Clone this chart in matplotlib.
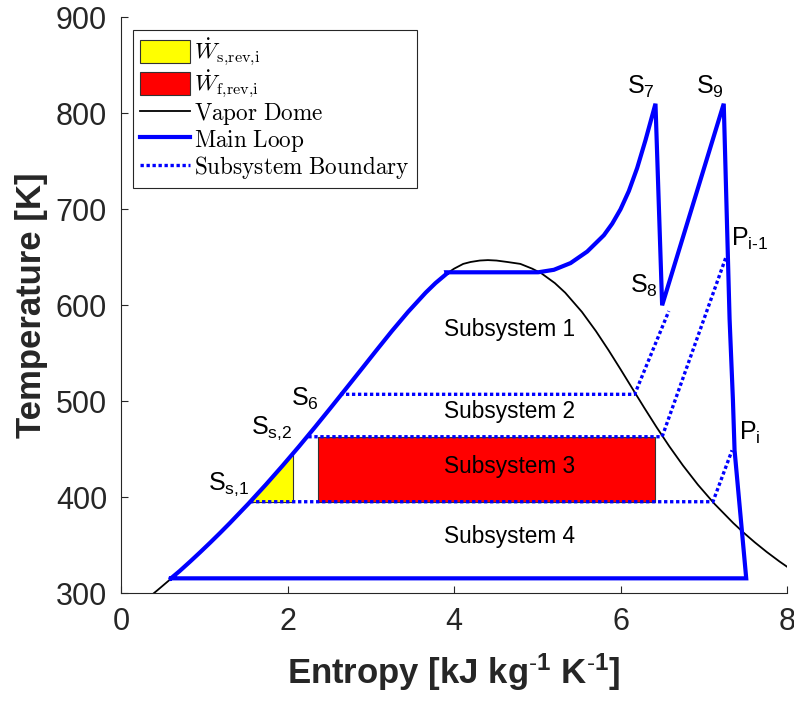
import numpy as np
import matplotlib
matplotlib.use("Agg")
import matplotlib.pyplot as plt
from matplotlib.font_manager import FontProperties
from matplotlib.patches import Patch, Polygon, Rectangle
from matplotlib.lines import Line2D

plt.rcParams['font.family'] = ['Liberation Sans', 'DejaVu Sans']
plt.rcParams['mathtext.fontset'] = 'custom'
plt.rcParams['mathtext.rm'] = 'Liberation Sans'
plt.rcParams['mathtext.it'] = 'Liberation Sans:italic'
plt.rcParams['mathtext.bf'] = 'Liberation Sans:bold'

# ---- Vapor dome (saturation curve) ----
dome_T = [298.15, 303.15, 313.15, 323.15, 333.15, 343.15, 353.15, 363.15, 373.15,
          393.15, 413.15, 433.15, 453.15, 473.15, 493.15, 513.15, 533.15, 553.15,
          573.15, 593.15, 613.15, 623.15, 633.15, 638.15, 643.15, 645.15, 646.65, 647.1]
dome_sf = [0.3672, 0.4368, 0.5724, 0.7038, 0.8313, 0.9551, 1.0756, 1.1929, 1.3072,
           1.5279, 1.7392, 1.9426, 2.1396, 2.3305, 2.5175, 2.7020, 2.8857, 3.0683,
           3.2534, 3.4480, 3.6594, 3.7777, 3.9147, 4.0009, 4.1106, 4.2000, 4.3100, 4.4070]
dome_sg = [8.5567, 8.4520, 8.2557, 8.0763, 7.9096, 7.7553, 7.6122, 7.4791, 7.3549,
           7.1292, 6.9294, 6.7502, 6.5857, 6.4323, 6.2861, 6.1437, 6.0019, 5.8571,
           5.7045, 5.5362, 5.3357, 5.2112, 5.0526, 4.9400, 4.7971, 4.6400, 4.5100, 4.4070]

# ---- Main loop ----
T_low = 315.6
T_boil = 634.4
s_pump_start = 0.60
s_boil_start = 3.91
s_boil_end = 5.01
sh_s = [5.01, 5.20, 5.40, 5.60, 5.80, 5.90, 6.00, 6.10, 6.20, 6.30, 6.42]
sh_T = [634.4, 637, 644, 656, 673, 685, 700, 719, 743, 772, 810]
rh_s = [6.42, 6.50, 7.24]          # S7 -> S8 -> S9
rh_T = [810, 600, 810]
exp_s = [7.24, 7.31, 7.35, 7.37, 7.51]   # S9 -> Pi-1 -> Pi -> condenser
exp_T = [810, 586, 502, 449, 315.6]

# ---- Subsystem boundaries ----
b1_s = [2.63, 6.17, 6.58]
b1_T = [507.3, 507.3, 594]
b2_s = [2.25, 6.50, 7.27]
b2_T = [463.1, 463.1, 651]
b3_s = [1.55, 7.11, 7.34]
b3_T = [395.4, 395.4, 449]

# ---- Work areas ----
ws_s = [1.55, 2.07, 2.07]
ws_T = [395.4, 395.4, 445]
wf_s = [2.37, 6.42]
wf_T = [395.4, 463.1]

subsys_labels = ['Subsystem 1', 'Subsystem 2', 'Subsystem 3', 'Subsystem 4']
subsys_s = [4.67, 4.67, 4.67, 4.67]
subsys_T = [575, 489, 432, 359]

pt_labels = [r'S$_{7}$', r'S$_{9}$', r'S$_{8}$', r'S$_{6}$', r'S$_{\mathrm{s{,}2}}$',
             r'S$_{\mathrm{s{,}1}}$', r'P$_{\mathrm{i\text{-}1}}$', r'P$_{\mathrm{i}}$']
pt_s = [6.25, 7.08, 6.28, 2.21, 1.81, 1.29, 7.55, 7.55]
pt_T = [828, 828, 620, 502, 472, 414, 669, 467]

fig = plt.figure(figsize=(7.94, 7.07), dpi=100)
ax = fig.add_axes([0.1524, 0.1608, 0.8388, 0.8147])

ax.add_patch(Polygon(list(zip(ws_s, ws_T)), closed=True, facecolor=(1, 1, 0),
                     edgecolor='#333333', linewidth=0.8, zorder=2))
ax.add_patch(Rectangle((wf_s[0], wf_T[0]), wf_s[1] - wf_s[0], wf_T[1] - wf_T[0],
                       facecolor=(1, 0, 0), edgecolor='#333333', linewidth=0.8, zorder=2))

dome_s_all = dome_sf + dome_sg[::-1]
dome_T_all = dome_T + dome_T[::-1]
ax.plot(dome_s_all, dome_T_all, color='k', lw=1.3, zorder=3)

liq = [(s, t) for s, t in zip(dome_sf, dome_T) if T_low < t < T_boil]
loop_s = [s_pump_start] + [p[0] for p in liq] + [s_boil_start, s_boil_end] + sh_s[1:] + rh_s[1:] + exp_s[1:] + [s_pump_start]
loop_T = [T_low] + [p[1] for p in liq] + [T_boil, T_boil] + sh_T[1:] + rh_T[1:] + exp_T[1:] + [T_low]
ax.plot(loop_s, loop_T, color=(0, 0, 1), lw=3, solid_joinstyle='miter', zorder=5)

for bs, bT in [(b1_s, b1_T), (b2_s, b2_T), (b3_s, b3_T)]:
    ax.plot(bs, bT, color=(0, 0, 1), lw=2.4, linestyle=(0, (1, 0.8)), zorder=4)

for lab, s, t in zip(subsys_labels, subsys_s, subsys_T):
    ax.text(s, t, lab, ha='center', va='center', fontsize=16.3, color='k', zorder=6)

for lab, s, t in zip(pt_labels, pt_s, pt_T):
    ax.text(s, t, lab, ha='center', va='center', fontsize=18, color='k', zorder=6)

ax.set_xlim(0, 8)
ax.set_ylim(300, 900)
ax.set_xticks([0, 2, 4, 6, 8])
ax.set_yticks([300, 400, 500, 600, 700, 800, 900])
for side in ['top', 'right']:
    ax.spines[side].set_visible(False)
for side in ['left', 'bottom']:
    ax.spines[side].set_color('#262626')
    ax.spines[side].set_linewidth(0.8)
ax.tick_params(direction='in', length=5, width=0.8, colors='#262626',
               labelsize=22, pad=10)
ax.set_xlabel(r'Entropy [kJ kg$^{\mathbf{\text{-}1}}$ K$^{\mathbf{\text{-}1}}$]', fontsize=25,
              fontweight='bold', color='#262626', labelpad=10)
ax.set_ylabel('Temperature [K]', fontsize=25, fontweight='bold', color='#262626', labelpad=6)

handles = [
    Patch(facecolor=(1, 1, 0), edgecolor='#333333', linewidth=0.8),
    Patch(facecolor=(1, 0, 0), edgecolor='#333333', linewidth=0.8),
    Line2D([], [], color='k', lw=1.3),
    Line2D([], [], color=(0, 0, 1), lw=3),
    Line2D([], [], color=(0, 0, 1), lw=2.4, linestyle=(0, (1, 0.8))),
]
labels = [r'$\dot{W}_{\mathrm{s{,}rev{,}i}}$', r'$\dot{W}_{\mathrm{f{,}rev{,}i}}$',
          r'$\mathrm{Vapor\ Dome}$', r'$\mathrm{Main\ Loop}$',
          r'$\mathrm{Subsystem\ Boundary}$']
leg = ax.legend(handles, labels, loc='upper left', bbox_to_anchor=(0.018, 0.978),
                borderaxespad=0, prop=FontProperties(size=16.7, math_fontfamily='cm'),
                handlelength=2.15, handleheight=1.1, handletextpad=0.2,
                labelspacing=0.03, borderpad=0.3, fancybox=False, framealpha=1)
leg.get_frame().set_edgecolor('#262626')
leg.get_frame().set_linewidth(0.8)

fig.savefig('out.png', dpi=100)
